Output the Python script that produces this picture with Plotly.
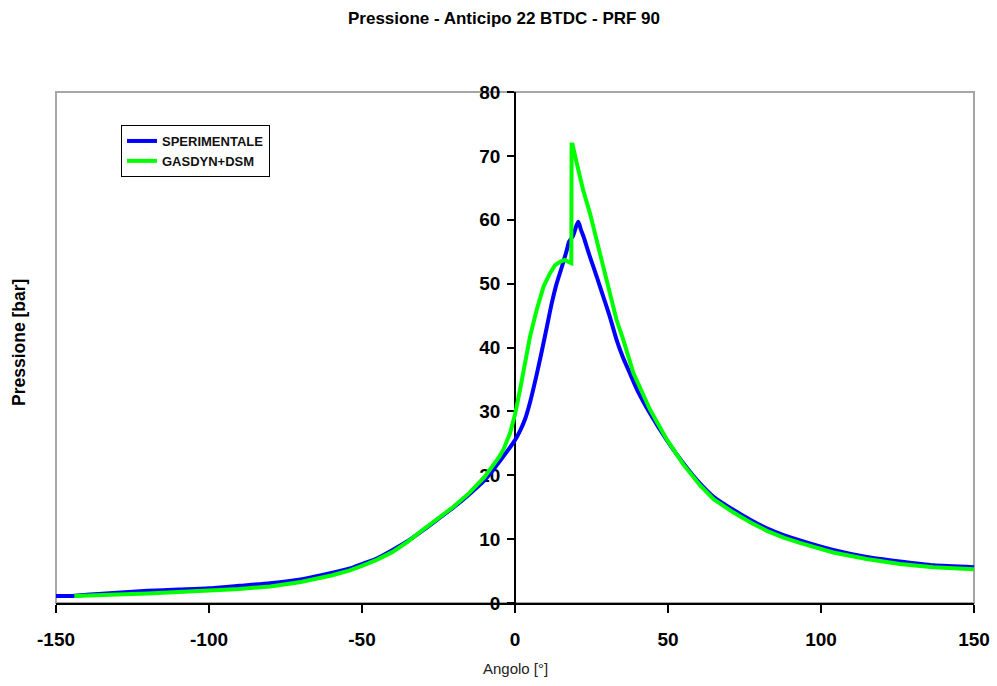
import plotly.graph_objects as go

# Experimental pressure (SPERIMENTALE)
exp_angle = [-150, -145, -140, -130, -120, -110, -100, -90, -80, -70, -60, -54, -50, -45, -40,
             -35, -30, -25, -20, -15, -10, -5, 0, 1.6, 3.3, 4.9, 7.1, 8.7, 10.4, 12, 13.6,
             15.3, 16.9, 17.6, 18.0, 19.0, 20.0, 20.7, 21.5, 22.3, 24.5, 26.7, 28.9, 31,
             33.2, 35.4, 37.6, 40, 44.1, 49.6, 55, 60.5, 65, 71.3, 77, 82.3, 88, 93.1,
             104, 114.9, 125.8, 136.7, 150]
exp_press = [1.1, 1.1, 1.3, 1.6, 1.9, 2.1, 2.3, 2.7, 3.1, 3.7, 4.7, 5.4, 6.1, 7.0, 8.3,
             9.7, 11.4, 13.2, 15.0, 17.0, 19.2, 22.2, 25.5, 26.9, 28.8, 31.4, 35.8, 39.3, 43.2, 46.9, 50.0,
             52.6, 55.2, 56.5, 56.8, 57.5, 59.0, 59.7, 58.5, 57.5, 54.2, 51.1, 47.9, 44.8,
             41.2, 38.3, 35.9, 33.3, 29.7, 25.5, 21.9, 18.7, 16.6, 14.6, 13.0, 11.7, 10.6, 9.8,
             8.3, 7.2, 6.5, 5.9, 5.6]

# Simulated pressure (GASDYN+DSM)
sim_angle = [-144, -140, -130, -120, -110, -100, -90, -80, -70, -60, -54, -50, -45, -40,
             -35, -30, -25, -20, -15, -10, -5, -3.8, -1.6, 0, 1.6, 3.3, 4.9, 7.1, 9.3, 11.4,
             13.1, 14.7, 16.3, 17.5, 18.4, 18.5, 18.8, 20.2, 22.3, 24.5, 26.7, 28.9, 31,
             33.2, 35.4, 37.6, 38.7, 44.1, 49.6, 55, 60.5, 65, 71.3, 77, 82.3, 88, 93.1,
             104, 114.9, 125.8, 136.7, 150]
sim_press = [1.1, 1.2, 1.35, 1.5, 1.7, 1.9, 2.2, 2.6, 3.3, 4.3, 5.1, 5.8, 6.8, 8.0,
             9.6, 11.5, 13.4, 15.1, 17.2, 19.7, 23.0, 24.0, 26.6, 29.5, 33.3, 37.5, 41.7, 45.9, 49.5, 51.6,
             52.9, 53.4, 53.7, 53.4, 53.2, 71.8, 71.8, 68.8, 64.6, 61.0, 56.8, 52.6, 48.5,
             44.3, 41.2, 38.0, 36.0, 30.3, 25.6, 21.7, 18.4, 16.2, 14.2, 12.6, 11.3, 10.2, 9.4,
             7.9, 6.9, 6.1, 5.6, 5.3]

x_ticks = [-150, -100, -50, 0, 50, 100, 150]
y_ticks = [0, 10, 20, 30, 40, 50, 60, 70, 80]

FONT = "Liberation Sans, Arial, sans-serif"

W, H = 997, 686
L, T, PW, PH = 56, 92, 918, 511

fig = go.Figure()
fig.add_trace(go.Scatter(x=exp_angle, y=exp_press, mode="lines", name="SPERIMENTALE",
                         line=dict(color="#0000ff", width=4, shape="spline", smoothing=0.6)))
fig.add_trace(go.Scatter(x=sim_angle, y=sim_press, mode="lines", name="GASDYN+DSM",
                         line=dict(color="#00ff00", width=4)))

fig.update_layout(
    template="none",
    width=W, height=H,
    margin=dict(l=L, r=W - L - PW, t=T, b=H - T - PH, pad=0),
    paper_bgcolor="white", plot_bgcolor="white",
    font=dict(family=FONT, color="black"),
    title=dict(text="Pressione - Anticipo 22 BTDC - PRF 90", x=504 / W, xref="container",
               xanchor="center", y=1 - 18 / H, yanchor="middle", yref="container",
               font=dict(size=17, family=FONT, weight="bold", color="black")),
    xaxis=dict(range=[-150, 150], tickvals=x_ticks, ticktext=[str(v) for v in x_ticks],
               showgrid=False, zeroline=False, showline=True, linecolor="black", linewidth=1.5,
               ticks="outside", ticklen=8, tickcolor="black", tickwidth=1.5,
               tickfont=dict(size=19, family=FONT, weight="bold", color="black"),
               ticklabelstandoff=10, ticklabeloverflow="allow", anchor="y", automargin=False),
    yaxis=dict(range=[0, 80], tickvals=y_ticks, ticktext=[str(v) for v in y_ticks],
               showgrid=False, zeroline=False, showline=True, linecolor="black", linewidth=1.5,
               ticks="outside", ticklen=7, tickcolor="black", tickwidth=1.5,
               tickfont=dict(size=19, family=FONT, weight="bold", color="black"),
               ticklabelstandoff=3, automargin=False,
               anchor="free", position=0.5, layer="below traces"),
    showlegend=True,
    legend=dict(x=(121 - L) / PW, y=(T + PH - 125) / PH, xanchor="left", yanchor="top",
                bordercolor="black", borderwidth=1, bgcolor="white",
                font=dict(size=13, family=FONT, weight="bold", color="#111111"),
                tracegroupgap=4),
    shapes=[dict(type="rect", xref="paper", yref="paper", x0=0, x1=1, y0=0, y1=1,
                 line=dict(color="#a6a6a6", width=2), layer="below")],
    annotations=[
        dict(text="Angolo [°]", xref="paper", yref="paper", x=0.5, y=-(668 - 603) / PH,
             xanchor="center", yanchor="middle", showarrow=False,
             font=dict(size=15, family=FONT, color="#222222")),
        dict(text="Pressione [bar]", xref="paper", yref="paper", x=(19 - L) / PW, y=(603 - 343) / PH,
             xanchor="center", yanchor="middle", showarrow=False, textangle=-90,
             font=dict(size=17.5, family=FONT, weight="bold", color="black")),
    ],
)

fig.write_html("out.html", config={"displayModeBar": False},
               post_script="document.body.style.margin='0';document.body.style.overflow='hidden';")
